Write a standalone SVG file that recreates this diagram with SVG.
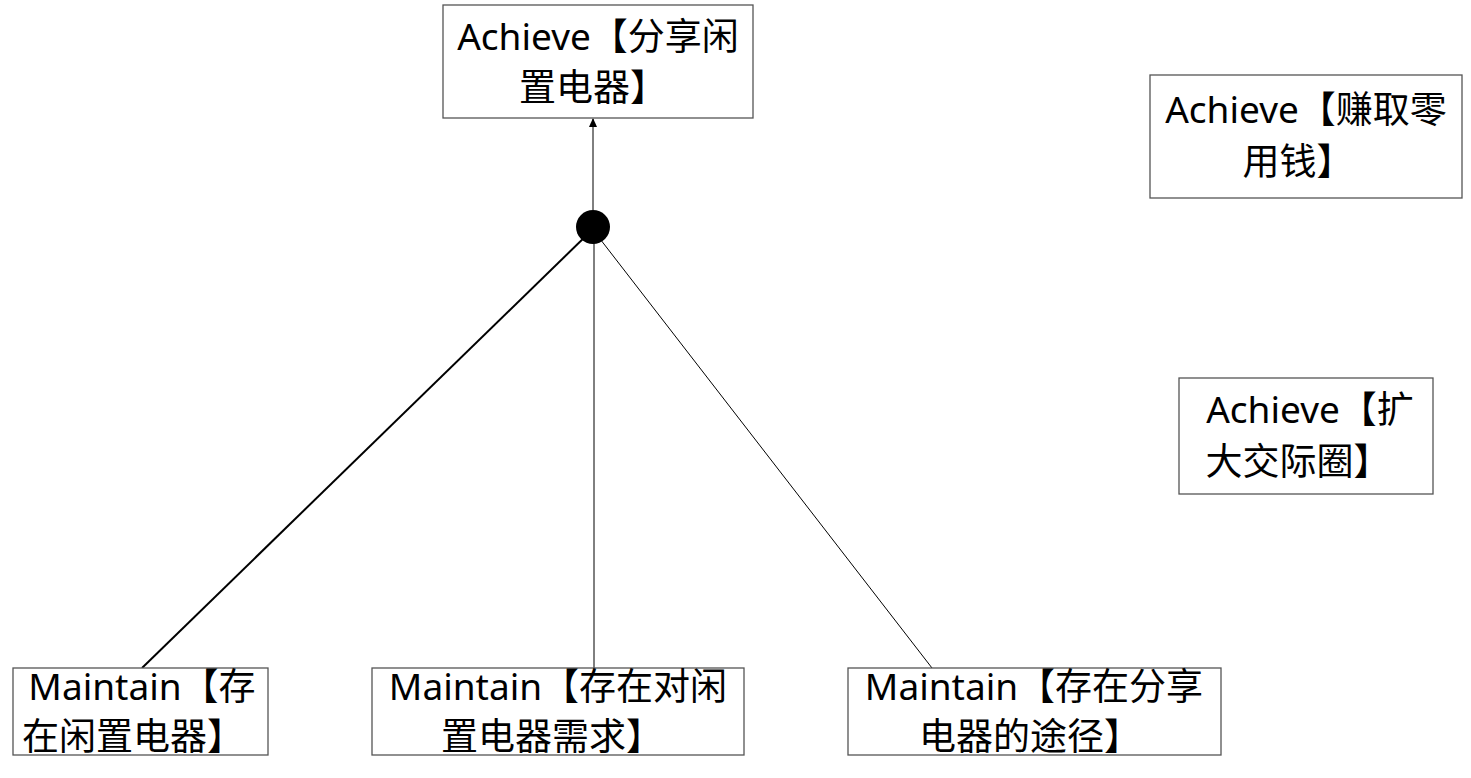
<svg xmlns="http://www.w3.org/2000/svg" width="1471" height="778" viewBox="0 0 1471 778">
<style>
.box{fill:#fff;stroke:#555;stroke-width:1.3}
.t{font-family:"Noto Sans","Noto Sans CJK SC",sans-serif;font-size:37px;fill:#000;text-anchor:middle}
.ln{stroke:#000;fill:none}
</style>
<defs>
<marker id="arr" markerWidth="10" markerHeight="12" refX="8" refY="6" orient="auto" markerUnits="userSpaceOnUse">
<path d="M0,2 L9,6 L0,10 Z" fill="#000"/>
</marker>
</defs>
<rect width="1471" height="778" fill="#fff"/>
<g id="connectors">
<line class="ln" x1="593" y1="210" x2="593" y2="119" stroke-width="1" marker-end="url(#arr)"/>
<line class="ln" x1="590" y1="232" x2="142" y2="668" stroke-width="2"/>
<line class="ln" x1="594" y1="240" x2="594" y2="668" stroke-width="1"/>
<line class="ln" x1="597" y1="235" x2="932" y2="668" stroke-width="1"/>
<circle cx="593" cy="227" r="17" fill="#000"/>
</g>
<g id="n1">
<rect class="box" x="443" y="5" width="310" height="113"/>
<text class="t" x="598" y="50">Achieve【分享闲</text>
<text class="t" x="593" y="101">置电器】</text>
</g>
<g id="n2">
<rect class="box" x="1150" y="75" width="312" height="123"/>
<text class="t" x="1306" y="123">Achieve【赚取零</text>
<text class="t" x="1298" y="175">用钱】</text>
</g>
<g id="n3">
<rect class="box" x="1179" y="378" width="254" height="116"/>
<text class="t" x="1310" y="423">Achieve【扩</text>
<text class="t" x="1298" y="475">大交际圈】</text>
</g>
<g id="n4">
<rect class="box" x="13" y="668" width="255" height="87"/>
<text class="t" x="142" y="700">Maintain【存</text>
<text class="t" x="133" y="750">在闲置电器】</text>
</g>
<g id="n5">
<rect class="box" x="372" y="668" width="372" height="87"/>
<text class="t" x="558" y="700">Maintain【存在对闲</text>
<text class="t" x="552" y="750">置电器需求】</text>
</g>
<g id="n6">
<rect class="box" x="848" y="668" width="373" height="87"/>
<text class="t" x="1034" y="700">Maintain【存在分享</text>
<text class="t" x="1030" y="750">电器的途径】</text>
</g>
</svg>
